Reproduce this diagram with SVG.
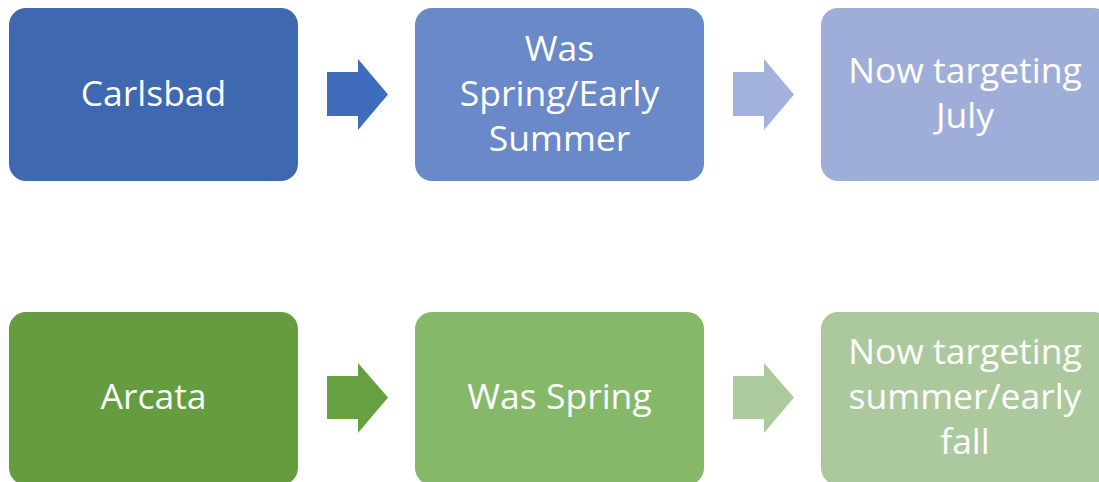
<svg xmlns="http://www.w3.org/2000/svg" width="1099" height="482" viewBox="0 0 1099 482">
<style>
text{font-family:"Open Sans","Liberation Sans",sans-serif;font-size:35.5px;fill:#ffffff;text-anchor:middle}
</style>
<rect width="1099" height="482" fill="#ffffff"/>
<g id="connectors">
<path d="M327,72 H358 V59 L388,94.5 L358,130 V116 H327 Z" fill="#3F6CBB"/>
<path d="M733,72 H764 V59 L794,94.5 L764,130 V116 H733 Z" fill="#A2B2DC"/>
<path d="M327,376 H358 V363 L388,397.5 L358,433 V419 H327 Z" fill="#67A040"/>
<path d="M733,376 H764 V363 L794,397.5 L764,433 V419 H733 Z" fill="#ADCA9E"/>
</g>
<g id="carlsbad"><rect x="9" y="8" width="289" height="173" rx="17" fill="#3E68B0"/><text x="153.5" y="106">Carlsbad</text></g>
<g id="was-spring-early-summer"><rect x="415" y="8" width="289" height="173" rx="17" fill="#6A89C8"/><text x="559.5" y="61">Was</text><text x="559.5" y="106">Spring/Early</text><text x="559.5" y="151">Summer</text></g>
<g id="now-july"><rect x="821" y="8" width="289" height="173" rx="17" fill="#9FAED8"/><text x="965" y="83">Now targeting</text><text x="965" y="128">July</text></g>
<g id="arcata"><rect x="9" y="312" width="289" height="173" rx="17" fill="#649C3F"/><text x="153.5" y="409">Arcata</text></g>
<g id="was-spring"><rect x="415" y="312" width="289" height="173" rx="17" fill="#86B86A"/><text x="559.5" y="409">Was Spring</text></g>
<g id="now-summer-fall"><rect x="821" y="312" width="289" height="173" rx="17" fill="#ACC99D"/><text x="965" y="364">Now targeting</text><text x="965" y="409">summer/early</text><text x="965" y="454">fall</text></g>
</svg>
